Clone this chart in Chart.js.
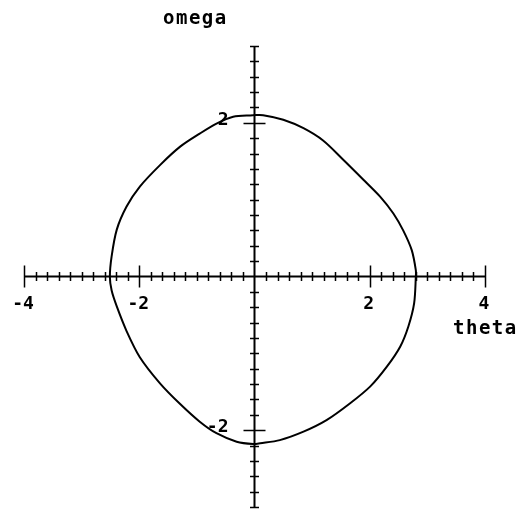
<!DOCTYPE html>
<html>
<head>
<meta charset="utf-8">
<style>
  html, body { margin: 0; padding: 0; background: #fff; }
  #wrap { width: 521px; height: 509px; }
</style>
<script src="https://cdn.jsdelivr.net/npm/chart.js@4.4.1/dist/chart.umd.min.js"></script>
</head>
<body>
<div id="wrap"><canvas id="c" width="521" height="509"></canvas></div>
<script>
// Phase-plane orbit of the pendulum: angle theta against angular velocity omega
const theta = [
  -0.03, 0.15, 0.50, 0.85, 1.19, 1.54, 1.89, 2.18, 2.41, 2.58, 2.73, 2.80, 2.80,
  2.77, 2.67, 2.53, 2.30, 2.01, 1.66, 1.25, 0.85, 0.44, 0.10,
  -0.02, -0.31, -0.66, -0.95, -1.29, -1.64, -1.99, -2.22, -2.39, -2.48, -2.51,
  -2.48, -2.39, -2.22, -1.99, -1.64, -1.29, -0.95, -0.66, -0.37, -0.03
];
const omega = [
  2.10, 2.10, 2.04, 1.93, 1.77, 1.52, 1.26, 1.04, 0.82, 0.60, 0.34, 0.08, 0.00,
  -0.35, -0.65, -0.91, -1.17, -1.43, -1.65, -1.87, -2.02, -2.13, -2.17,
  -2.18, -2.15, -2.04, -1.89, -1.66, -1.39, -1.05, -0.71, -0.39, -0.18, 0.00,
  0.26, 0.61, 0.91, 1.17, 1.45, 1.69, 1.86, 1.99, 2.08, 2.10
];

// Axis ranges and labelled ticks
const xRange = [-4, 4];
const yRange = [-3, 3];
const minorStep = 0.2;
const xTickLabels = [-4, -2, 2, 4];
const yTickLabels = [2, -2];
const xTitle = 'theta';
const yTitle = 'omega';

const FONT = '"DejaVu Sans Mono", "Liberation Mono", monospace';

// Cross-style axes through the origin with minor and major tick marks
const crossAxes = {
  id: 'crossAxes',
  afterDatasetsDraw(chart) {
    const ctx = chart.ctx;
    const xs = chart.scales.x, ys = chart.scales.y;
    const x0 = xs.getPixelForValue(0), y0 = ys.getPixelForValue(0);
    const isMajor = v => Math.abs(v) > 0.5 && Math.abs(v - Math.round(v)) < 1e-6 && Math.round(v) % 2 === 0;
    ctx.save();
    ctx.strokeStyle = '#000';
    ctx.fillStyle = '#000';

    // axis lines
    ctx.lineWidth = 2;
    ctx.beginPath();
    ctx.moveTo(xs.getPixelForValue(xRange[0]), y0);
    ctx.lineTo(xs.getPixelForValue(xRange[1]), y0);
    ctx.moveTo(x0, ys.getPixelForValue(yRange[0]));
    ctx.lineTo(x0, ys.getPixelForValue(yRange[1]));
    ctx.stroke();

    // tick marks
    ctx.lineWidth = 1.5;
    ctx.beginPath();
    const nx = Math.round((xRange[1] - xRange[0]) / minorStep);
    for (let i = 0; i <= nx; i++) {
      const v = xRange[0] + i * minorStep;
      if (Math.abs(v) < 1e-6) continue;
      const p = Math.round(xs.getPixelForValue(v)) + 0.5;
      const h = isMajor(v) ? 11 : 4.5;
      ctx.moveTo(p, y0 - h);
      ctx.lineTo(p, y0 + h);
    }
    const ny = Math.round((yRange[1] - yRange[0]) / minorStep);
    for (let i = 0; i <= ny; i++) {
      const v = yRange[0] + i * minorStep;
      if (Math.abs(v) < 1e-6) continue;
      const p = Math.round(ys.getPixelForValue(v)) + 0.5;
      const h = isMajor(v) ? 11 : 4.5;
      ctx.moveTo(x0 - h, p);
      ctx.lineTo(x0 + h, p);
    }
    ctx.stroke();

    // tick labels
    ctx.font = 'bold 18px ' + FONT;
    ctx.textAlign = 'center';
    ctx.textBaseline = 'alphabetic';
    xTickLabels.forEach(v => {
      ctx.fillText(String(v), xs.getPixelForValue(v) - 1, y0 + 32);
    });
    ctx.textAlign = 'right';
    ctx.textBaseline = 'middle';
    yTickLabels.forEach(v => {
      ctx.fillText(String(v), x0 - 26, ys.getPixelForValue(v) - 3);
    });

    // axis titles
    ctx.font = 'bold 19px ' + FONT;
    if ('letterSpacing' in ctx) ctx.letterSpacing = '1.5px';
    ctx.textAlign = 'left';
    ctx.textBaseline = 'alphabetic';
    ctx.fillText(yTitle, 163, 24);
    ctx.fillText(xTitle, 453, y0 + 57);
    ctx.restore();
  }
};

new Chart(document.getElementById('c'), {
  type: 'scatter',
  data: {
    datasets: [{
      data: theta.map((t, i) => ({ x: t, y: omega[i] })),
      showLine: true,
      borderColor: '#000',
      borderWidth: 2,
      pointRadius: 0,
      tension: 0.3,
      fill: false
    }]
  },
  options: {
    responsive: false,
    animation: false,
    devicePixelRatio: 1,
    layout: { padding: { left: 24, right: 36, top: 46, bottom: 2 } },
    plugins: { legend: { display: false }, tooltip: { enabled: false } },
    scales: {
      x: { type: 'linear', min: xRange[0], max: xRange[1], display: false },
      y: { type: 'linear', min: yRange[0], max: yRange[1], display: false }
    }
  },
  plugins: [crossAxes]
});
</script>
</body>
</html>
